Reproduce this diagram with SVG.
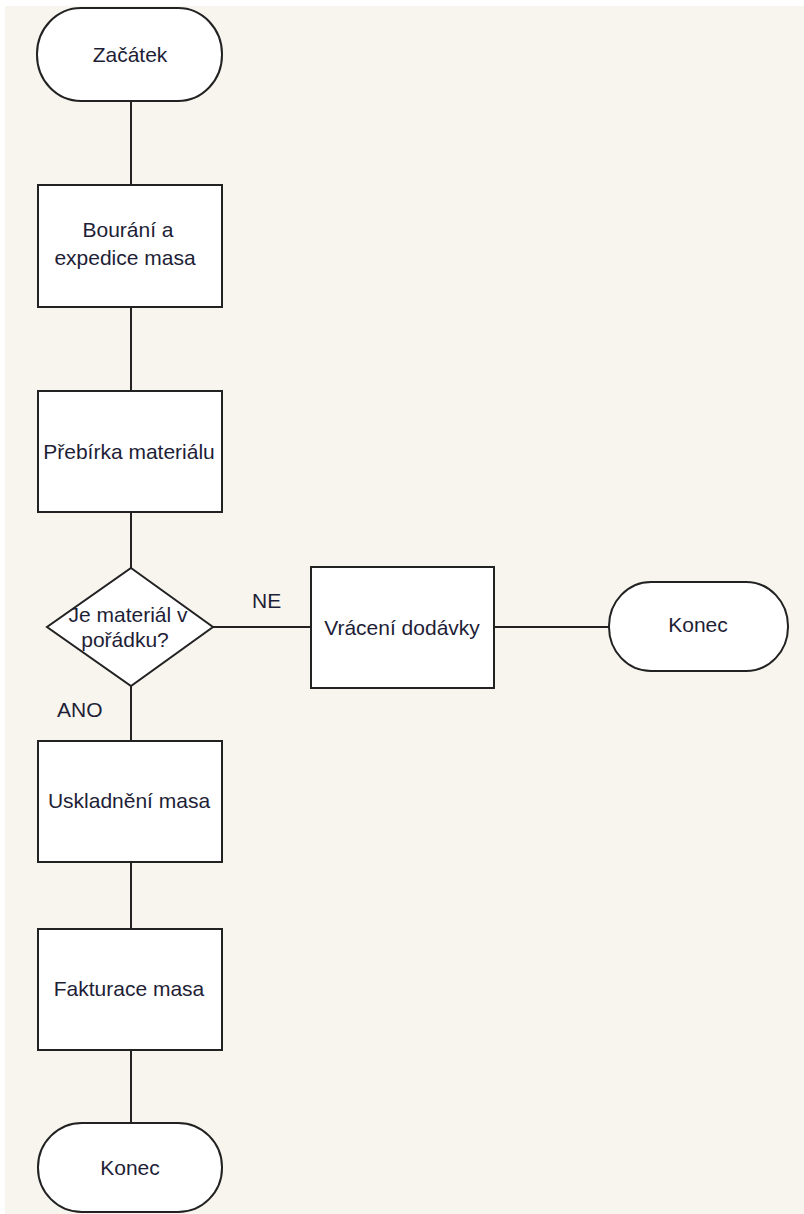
<svg xmlns="http://www.w3.org/2000/svg" width="804" height="1214" viewBox="0 0 804 1214">
  <style>
    .shape { fill: #ffffff; stroke: #222222; stroke-width: 2; }
    .conn { stroke: #222222; stroke-width: 2; fill: none; }
    .lbl { font-family: "Liberation Sans", Arial, sans-serif; font-size: 21px; fill: #1e1e36; text-anchor: middle; }
    .tag { font-family: "Liberation Sans", Arial, sans-serif; font-size: 21px; fill: #1e1e36; }
  </style>

  <!-- canvas -->
  <rect x="0" y="0" width="804" height="1214" fill="#ffffff"/>
  <rect x="5" y="6" width="799" height="1208" fill="#f8f5ee"/>

  <!-- connectors -->
  <g id="connectors">
    <line class="conn" x1="131" y1="101" x2="131" y2="185"/>
    <line class="conn" x1="131" y1="307" x2="131" y2="391"/>
    <line class="conn" x1="131" y1="512" x2="131" y2="568"/>
    <line class="conn" x1="131" y1="686" x2="131" y2="741"/>
    <line class="conn" x1="131" y1="862" x2="131" y2="929"/>
    <line class="conn" x1="131" y1="1050" x2="131" y2="1123"/>
    <line class="conn" x1="212" y1="627" x2="311" y2="627"/>
    <line class="conn" x1="494" y1="627" x2="609" y2="627"/>
    <text class="tag" x="252" y="608">NE</text>
    <text class="tag" x="57" y="717">ANO</text>
  </g>

  <!-- start -->
  <g id="start">
    <rect class="shape" x="37" y="8" width="185" height="93" rx="44" ry="46"/>
    <text class="lbl" x="130" y="62">Začátek</text>
  </g>

  <g id="bourani">
    <rect class="shape" x="38" y="185" width="184" height="122"/>
    <text class="lbl" x="128" y="237">Bourání a</text>
    <text class="lbl" x="125" y="265">expedice masa</text>
  </g>

  <g id="prebirka">
    <rect class="shape" x="38" y="391" width="184" height="121"/>
    <text class="lbl" x="129" y="459">Přebírka materiálu</text>
  </g>

  <g id="decision">
    <polygon class="shape" points="131,568 213,627 131,686 47,627"/>
    <text class="lbl" x="128" y="622">Je materiál v</text>
    <text class="lbl" x="125" y="647">pořádku?</text>
  </g>

  <g id="vraceni">
    <rect class="shape" x="311" y="567" width="183" height="121"/>
    <text class="lbl" x="402" y="635">Vrácení dodávky</text>
  </g>

  <g id="end-right">
    <rect class="shape" x="609" y="582" width="179" height="89" rx="42" ry="44"/>
    <text class="lbl" x="698" y="632">Konec</text>
  </g>

  <g id="uskladneni">
    <rect class="shape" x="38" y="741" width="184" height="121"/>
    <text class="lbl" x="129" y="808">Uskladnění masa</text>
  </g>

  <g id="fakturace">
    <rect class="shape" x="38" y="929" width="184" height="121"/>
    <text class="lbl" x="129" y="996">Fakturace masa</text>
  </g>

  <g id="end-bottom">
    <rect class="shape" x="38" y="1123" width="184" height="89" rx="44" ry="44"/>
    <text class="lbl" x="130" y="1175">Konec</text>
  </g>
</svg>
